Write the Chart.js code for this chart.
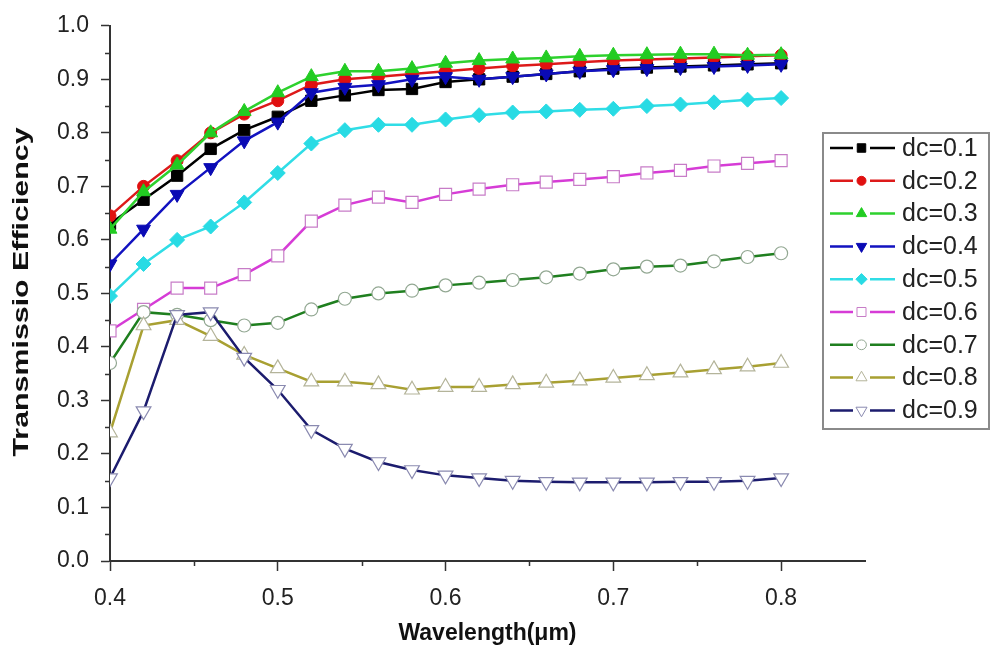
<!DOCTYPE html>
<html>
<head>
<meta charset="utf-8">
<script src="https://cdn.jsdelivr.net/npm/chart.js@4.4.1/dist/chart.umd.min.js"></script>
<style>
  html, body { margin: 0; padding: 0; background: #fff; }
  #wrap { width: 991px; height: 655px; position: relative; }
</style>
</head>
<body>
<div id="wrap"><canvas id="effChart"></canvas></div>
<script>
// wavelength in um, 0.40 .. 0.80 step 0.02
var wavelength = [0.40, 0.42, 0.44, 0.46, 0.48, 0.50, 0.52, 0.54, 0.56, 0.58, 0.60,
                  0.62, 0.64, 0.66, 0.68, 0.70, 0.72, 0.74, 0.76, 0.78, 0.80];

var dc01 = [0.630, 0.675, 0.720, 0.770, 0.805, 0.830, 0.860, 0.870, 0.880, 0.882, 0.895,
            0.900, 0.905, 0.910, 0.915, 0.920, 0.922, 0.924, 0.926, 0.928, 0.930];
var dc02 = [0.645, 0.700, 0.748, 0.800, 0.835, 0.860, 0.890, 0.900, 0.905, 0.910, 0.915,
            0.920, 0.925, 0.928, 0.932, 0.935, 0.937, 0.939, 0.941, 0.943, 0.945];
var dc03 = [0.620, 0.690, 0.740, 0.800, 0.840, 0.875, 0.905, 0.915, 0.915, 0.920, 0.930,
            0.935, 0.938, 0.940, 0.943, 0.945, 0.946, 0.947, 0.947, 0.945, 0.946];
var dc04 = [0.555, 0.620, 0.685, 0.735, 0.785, 0.820, 0.875, 0.885, 0.890, 0.900, 0.905,
            0.900, 0.905, 0.910, 0.915, 0.918, 0.920, 0.922, 0.924, 0.926, 0.928];
var dc05 = [0.495, 0.555, 0.600, 0.625, 0.670, 0.725, 0.780, 0.805, 0.815, 0.815, 0.825,
            0.833, 0.838, 0.840, 0.843, 0.845, 0.850, 0.853, 0.857, 0.862, 0.865];
var dc06 = [0.430, 0.470, 0.510, 0.510, 0.535, 0.570, 0.635, 0.665, 0.680, 0.670, 0.685,
            0.695, 0.703, 0.708, 0.713, 0.718, 0.725, 0.730, 0.738, 0.743, 0.748];
var dc07 = [0.370, 0.465, 0.460, 0.450, 0.440, 0.445, 0.470, 0.490, 0.500, 0.505, 0.515,
            0.520, 0.525, 0.530, 0.537, 0.545, 0.550, 0.552, 0.560, 0.568, 0.575];
var dc08 = [0.240, 0.440, 0.450, 0.420, 0.385, 0.360, 0.335, 0.335, 0.330, 0.320, 0.325,
            0.325, 0.330, 0.333, 0.337, 0.342, 0.347, 0.352, 0.358, 0.363, 0.370];
var dc09 = [0.155, 0.280, 0.460, 0.465, 0.380, 0.320, 0.245, 0.210, 0.185, 0.170, 0.160,
            0.155, 0.150, 0.148, 0.147, 0.147, 0.147, 0.148, 0.148, 0.150, 0.155];

var seriesLabels = ['dc=0.1', 'dc=0.2', 'dc=0.3', 'dc=0.4', 'dc=0.5',
                    'dc=0.6', 'dc=0.7', 'dc=0.8', 'dc=0.9'];
var seriesValues = [dc01, dc02, dc03, dc04, dc05, dc06, dc07, dc08, dc09];

// Origin-like styling per series
var lineColors   = ['#000000', '#dd1a1a', '#2ed12e', '#1212c0', '#30dde6',
                    '#d63cd6', '#1f7f1f', '#a8a032', '#1c1c6e'];
var markerFills  = ['#000000', '#e01010', '#22cc22', '#0a0ab4', '#28dbe4',
                    '#ffffff', '#ffffff', '#ffffff', '#ffffff'];
var markerEdges  = ['#000000', '#e01010', '#22cc22', '#0a0ab4', '#28dbe4',
                    '#c77cc7', '#93a893', '#b4b49a', '#8a8ab0'];
var markerShapes = ['rect', 'circle', 'triangle', 'triangle', 'rectRot',
                    'rect', 'circle', 'triangle', 'triangle'];
var markerRotate = [0, 0, 0, 180, 0, 0, 0, 0, 180];
var markerSizes  = [8, 6, 8, 8, 7.5, 8.5, 6.5, 8.5, 8.5];

var datasets = seriesValues.map(function (vals, i) {
    return {
        label: seriesLabels[i],
        data: vals.map(function (v, k) { return { x: wavelength[k], y: v }; }),
        borderColor: lineColors[i],
        backgroundColor: markerFills[i],
        borderWidth: 2.5,
        pointStyle: markerShapes[i],
        pointRotation: markerRotate[i],
        pointRadius: markerSizes[i],
        pointBackgroundColor: markerFills[i],
        pointBorderColor: markerEdges[i],
        pointBorderWidth: i < 5 ? 1 : 1.2,
        tension: 0,
        fill: false,
        order: 9 - i
    };
});

// short minor ticks at the half steps
var minorTicks = {
    id: 'minorTicks',
    afterDraw: function (chart) {
        var ctx = chart.ctx;
        var xs = chart.scales.x, ys = chart.scales.y;
        ctx.save();
        ctx.strokeStyle = '#333';
        ctx.lineWidth = 1.5;
        ctx.beginPath();
        for (var v = 0.45; v < 0.85; v += 0.1) {
            var px = Math.round(xs.getPixelForValue(v)) + 0.5;
            ctx.moveTo(px, ys.bottom);
            ctx.lineTo(px, ys.bottom + 5);
        }
        for (var w = 0.05; w < 1.0; w += 0.1) {
            var py = Math.round(ys.getPixelForValue(w)) + 0.5;
            ctx.moveTo(xs.left, py);
            ctx.lineTo(xs.left - 5, py);
        }
        ctx.stroke();
        ctx.restore();
    }
};

// y title, stretched along its length like the original figure
var yTitle = {
    id: 'yTitle',
    afterDraw: function (chart) {
        var ctx = chart.ctx;
        ctx.save();
        ctx.translate(22, 292);
        ctx.rotate(-Math.PI / 2);
        ctx.scale(1.38, 1);
        ctx.font = 'bold 22px "Liberation Sans", Arial, sans-serif';
        ctx.fillStyle = '#111';
        ctx.textAlign = 'center';
        ctx.textBaseline = 'middle';
        ctx.fillText('Transmissio Efficiency', 0, 0);
        ctx.restore();
    }
};

// boxed legend at the right edge
var boxLegend = {
    id: 'boxLegend',
    afterDraw: function (chart) {
        var ctx = chart.ctx;
        ctx.save();
        ctx.fillStyle = '#fff';
        ctx.fillRect(823, 133, 166, 296);
        ctx.strokeStyle = '#8a8a8a';
        ctx.lineWidth = 2;
        ctx.strokeRect(823, 133, 166, 296);
        chart.data.datasets.forEach(function (ds, i) {
            var y = 148 + i * 32.8;
            ctx.strokeStyle = ds.borderColor;
            ctx.lineWidth = 2.5;
            ctx.beginPath();
            ctx.moveTo(830, y); ctx.lineTo(853, y);
            ctx.moveTo(870, y); ctx.lineTo(895, y);
            ctx.stroke();
            ctx.fillStyle = ds.pointBackgroundColor;
            ctx.strokeStyle = ds.pointBorderColor;
            ctx.lineWidth = 1;
            Chart.helpers.drawPoint(ctx, {
                pointStyle: ds.pointStyle,
                radius: ds.pointRadius * 0.75,
                rotation: ds.pointRotation,
                borderWidth: 1
            }, 861.5, y);
            ctx.fillStyle = '#222';
            ctx.font = '25px "Liberation Sans", Arial, sans-serif';
            ctx.textAlign = 'left';
            ctx.textBaseline = 'middle';
            ctx.fillText(ds.label, 902, y + 1);
        });
        ctx.restore();
    }
};

function onlyTenths(scale) {
    scale.ticks = scale.ticks.filter(function (t) {
        return Math.abs(t.value * 10 - Math.round(t.value * 10)) < 1e-6;
    });
}

var tickFont = { family: '"Liberation Sans", Arial, sans-serif', size: 23 };

new Chart(document.getElementById('effChart'), {
    type: 'line',
    data: { datasets: datasets },
    plugins: [minorTicks, yTitle, boxLegend],
    options: {
        responsive: true,
        maintainAspectRatio: false,
        animation: false,
        layout: { padding: { left: 0, top: 24, right: 126, bottom: 0 } },
        scales: {
            x: {
                type: 'linear',
                min: 0.4,
                max: 0.85,
                afterBuildTicks: onlyTenths,
                afterFit: function (s) { s.height = 94; },
                ticks: {
                    stepSize: 0.1,
                    color: '#222',
                    font: tickFont,
                    padding: 14,
                    maxRotation: 0,
                    callback: function (v) { return v.toFixed(1); }
                },
                grid: {
                    drawOnChartArea: false,
                    drawTicks: true,
                    tickLength: 10,
                    tickWidth: 1.5,
                    tickColor: '#333'
                },
                border: { display: true, color: '#333', width: 2 },
                title: {
                    display: true,
                    text: 'Wavelength(\u03bcm)',
                    color: '#111',
                    font: { family: '"Liberation Sans", Arial, sans-serif', size: 23, weight: 'bold' },
                    padding: { top: 0, bottom: 8 }
                }
            },
            y: {
                min: 0,
                max: 1.0,
                afterFit: function (s) { s.width = 110; },
                ticks: {
                    stepSize: 0.1,
                    color: '#222',
                    font: tickFont,
                    padding: 12,
                    callback: function (v) { return v.toFixed(1); }
                },
                grid: {
                    drawOnChartArea: false,
                    drawTicks: true,
                    tickLength: 9,
                    tickWidth: 1.5,
                    tickColor: '#333'
                },
                border: { display: true, color: '#333', width: 2 }
            }
        },
        plugins: {
            legend: { display: false },
            tooltip: { enabled: false }
        }
    }
});
</script>
</body>
</html>
